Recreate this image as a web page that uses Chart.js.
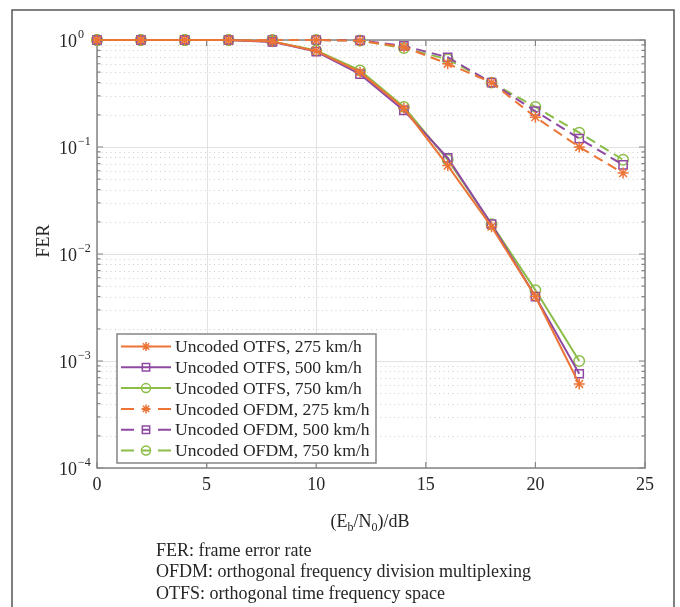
<!DOCTYPE html>
<html>
<head>
<meta charset="utf-8">
<style>
  html, body { margin: 0; padding: 0; background: #fff; }
  canvas { display: block; }
</style>
<script src="https://cdn.jsdelivr.net/npm/chart.js@4.4.1/dist/chart.umd.min.js"></script>
</head>
<body>
<canvas id="fer" width="680" height="607"></canvas>
<script>
// Eb/N0 sample points (dB)
const snrOtfs = [0, 2, 4, 6, 8, 10, 12, 14, 16, 18, 20, 22];
const snrOfdm = [0, 2, 4, 6, 8, 10, 12, 14, 16, 18, 20, 22, 24];

// Frame error rate per scheme and speed
const otfs275 = [1, 1, 1, 1, 0.97, 0.79, 0.50, 0.23, 0.067, 0.018, 0.0040, 0.00061];
const otfs500 = [1, 1, 1, 1, 0.96, 0.78, 0.48, 0.22, 0.079, 0.019, 0.0040, 0.00076];
const otfs750 = [1, 1, 1, 1, 0.97, 0.80, 0.52, 0.237, 0.076, 0.019, 0.0046, 0.0010];
const ofdm275 = [1, 1, 1, 1, 1, 1, 0.985, 0.86, 0.60, 0.40, 0.19, 0.10, 0.057];
const ofdm500 = [1, 1, 1, 1, 1, 1, 0.99, 0.88, 0.69, 0.40, 0.216, 0.12, 0.068];
const ofdm750 = [1, 1, 1, 1, 1, 1, 0.99, 0.84, 0.66, 0.40, 0.237, 0.136, 0.076];

const seriesLabels = [
  'Uncoded OTFS, 275 km/h',
  'Uncoded OTFS, 500 km/h',
  'Uncoded OTFS, 750 km/h',
  'Uncoded OFDM, 275 km/h',
  'Uncoded OFDM, 500 km/h',
  'Uncoded OFDM, 750 km/h'
];

// Axis ticks
const xTicks = [0, 5, 10, 15, 20, 25];
const yExponents = [0, -1, -2, -3, -4];

const footnotes = [
  'FER: frame error rate',
  'OFDM: orthogonal frequency division multiplexing',
  'OTFS: orthogonal time frequency space'
];

const ORANGE = '#ec7436';
const PURPLE = '#8e4aa3';
const GREEN = '#8bbd48';
const SERIF = '"Liberation Serif", "Times New Roman", serif';
const TEXT = '#262626';
const AXIS = '#858585';

const toPoints = (xs, ys) => xs.map((x, i) => ({ x: x, y: ys[i] }));

function series(label, xs, ys, color, style, radius, dashed) {
  return {
    label: label,
    data: toPoints(xs, ys),
    borderColor: color,
    backgroundColor: 'rgba(0,0,0,0)',
    borderWidth: 2,
    borderDash: dashed ? [10, 6] : [],
    pointStyle: style,
    pointRadius: radius,
    pointBorderColor: color,
    pointBackgroundColor: 'rgba(0,0,0,0)',
    pointBorderWidth: 1.5,
    tension: 0,
    clip: false
  };
}

const datasets = [
  series(seriesLabels[0], snrOtfs, otfs275, ORANGE, 'star', 5.5, false),
  series(seriesLabels[1], snrOtfs, otfs500, PURPLE, 'rect', 5.8, false),
  series(seriesLabels[2], snrOtfs, otfs750, GREEN, 'circle', 5.2, false),
  series(seriesLabels[3], snrOfdm, ofdm275, ORANGE, 'star', 5.5, true),
  series(seriesLabels[4], snrOfdm, ofdm500, PURPLE, 'rect', 5.8, true),
  series(seriesLabels[5], snrOfdm, ofdm750, GREEN, 'circle', 5.2, true)
];

function drawMarker(ctx, style, x, y, r, color) {
  ctx.save();
  ctx.strokeStyle = color;
  ctx.lineWidth = 1.5;
  ctx.setLineDash([]);
  ctx.beginPath();
  if (style === 'circle') {
    ctx.arc(x, y, r, 0, Math.PI * 2);
  } else if (style === 'rect') {
    const s = r * Math.SQRT1_2;
    ctx.rect(x - s, y - s, 2 * s, 2 * s);
  } else {
    for (let k = 0; k < 4; k++) {
      const a = k * Math.PI / 4;
      ctx.moveTo(x - r * Math.cos(a), y - r * Math.sin(a));
      ctx.lineTo(x + r * Math.cos(a), y + r * Math.sin(a));
    }
  }
  ctx.stroke();
  ctx.restore();
}

// White page with the figure frame
const framePlugin = {
  id: 'figureFrame',
  beforeDraw(chart) {
    const ctx = chart.ctx;
    ctx.save();
    ctx.fillStyle = '#fff';
    ctx.fillRect(0, 0, chart.width, chart.height);
    ctx.strokeStyle = '#555';
    ctx.lineWidth = 1.5;
    ctx.beginPath();
    ctx.moveTo(12, chart.height + 2);
    ctx.lineTo(12, 10);
    ctx.lineTo(674, 10);
    ctx.lineTo(674, chart.height + 2);
    ctx.stroke();
    ctx.restore();
  }
};

// Grid, axes box and inward tick marks
const axesPlugin = {
  id: 'axesBox',
  beforeDatasetsDraw(chart) {
    const ctx = chart.ctx;
    const xs = chart.scales.x, ys = chart.scales.y;
    const a = chart.chartArea;
    ctx.save();

    // minor dotted grid
    ctx.strokeStyle = '#cdcdcd';
    ctx.lineWidth = 1;
    ctx.setLineDash([1, 3.5]);
    for (const e of yExponents) {
      if (e === 0) continue;
      for (let m = 2; m <= 9; m++) {
        const py = Math.round(ys.getPixelForValue(m * Math.pow(10, e))) + 0.5;
        ctx.beginPath();
        ctx.moveTo(a.left, py);
        ctx.lineTo(a.right, py);
        ctx.stroke();
      }
    }

    // major solid grid
    ctx.setLineDash([]);
    ctx.strokeStyle = '#e2e2e2';
    for (const e of yExponents) {
      const py = Math.round(ys.getPixelForValue(Math.pow(10, e))) + 0.5;
      ctx.beginPath();
      ctx.moveTo(a.left, py);
      ctx.lineTo(a.right, py);
      ctx.stroke();
    }
    for (const t of xTicks) {
      const px = Math.round(xs.getPixelForValue(t)) + 0.5;
      ctx.beginPath();
      ctx.moveTo(px, a.top);
      ctx.lineTo(px, a.bottom);
      ctx.stroke();
    }

    // box
    ctx.strokeStyle = AXIS;
    ctx.lineWidth = 1.5;
    ctx.strokeRect(a.left, a.top, a.right - a.left, a.bottom - a.top);

    // tick marks pointing inwards
    ctx.lineWidth = 1.2;
    ctx.beginPath();
    for (const t of xTicks) {
      const px = xs.getPixelForValue(t);
      ctx.moveTo(px, a.bottom); ctx.lineTo(px, a.bottom - 6);
      ctx.moveTo(px, a.top); ctx.lineTo(px, a.top + 6);
    }
    for (const e of yExponents) {
      const py = ys.getPixelForValue(Math.pow(10, e));
      ctx.moveTo(a.left, py); ctx.lineTo(a.left + 6, py);
      ctx.moveTo(a.right, py); ctx.lineTo(a.right - 6, py);
      if (e === 0) continue;
      for (let m = 2; m <= 9; m++) {
        const pm = ys.getPixelForValue(m * Math.pow(10, e));
        ctx.moveTo(a.left, pm); ctx.lineTo(a.left + 3.5, pm);
        ctx.moveTo(a.right, pm); ctx.lineTo(a.right - 3.5, pm);
      }
    }
    ctx.stroke();
    ctx.restore();
  }
};

// Tick labels, axis titles, legend and footnotes
const textPlugin = {
  id: 'figureText',
  afterDraw(chart) {
    const ctx = chart.ctx;
    const xs = chart.scales.x, ys = chart.scales.y;
    const a = chart.chartArea;
    ctx.save();
    ctx.fillStyle = TEXT;

    // x tick labels
    ctx.font = '18px ' + SERIF;
    ctx.textAlign = 'center';
    ctx.textBaseline = 'middle';
    for (const t of xTicks) {
      ctx.fillText(String(t), xs.getPixelForValue(t), a.bottom + 17);
    }

    // y tick labels as 10 with a superscript exponent
    for (const e of yExponents) {
      const py = ys.getPixelForValue(Math.pow(10, e));
      ctx.font = '18px ' + SERIF;
      ctx.textAlign = 'left';
      ctx.textBaseline = 'middle';
      ctx.fillText('10', 59, py + 2);
      const w = ctx.measureText('10').width;
      ctx.font = '12px ' + SERIF;
      ctx.fillText(e === 0 ? '0' : '\u2212' + String(-e), 59 + w + 1, py - 5);
    }

    // y axis title
    ctx.save();
    ctx.translate(44, 241);
    ctx.rotate(-Math.PI / 2);
    ctx.font = '18px ' + SERIF;
    ctx.textAlign = 'center';
    ctx.textBaseline = 'middle';
    ctx.fillText('FER', 0, 0);
    ctx.restore();

    // x axis title: (E_b/N_0)/dB
    const parts = [
      ['(E', false], ['b', true], ['/N', false], ['0', true], [')/dB', false]
    ];
    let total = 0;
    for (const [s, sub] of parts) {
      ctx.font = (sub ? '12px ' : '18px ') + SERIF;
      total += ctx.measureText(s).width;
    }
    let cx = 370 - total / 2;
    ctx.textAlign = 'left';
    ctx.textBaseline = 'middle';
    for (const [s, sub] of parts) {
      ctx.font = (sub ? '12px ' : '18px ') + SERIF;
      ctx.fillText(s, cx, sub ? 528 : 522);
      cx += ctx.measureText(s).width;
    }

    // footnotes
    ctx.font = '18px ' + SERIF;
    footnotes.forEach((line, i) => {
      ctx.fillText(line, 156, 551 + i * 21.7);
    });

    // legend
    const lx = 117, ly = 334, lw = 259, lh = 129;
    ctx.fillStyle = '#fff';
    ctx.fillRect(lx, ly, lw, lh);
    ctx.strokeStyle = AXIS;
    ctx.lineWidth = 1.5;
    ctx.strokeRect(lx, ly, lw, lh);
    chart.data.datasets.forEach((ds, i) => {
      const y = 346.5 + i * 20.8;
      ctx.strokeStyle = ds.borderColor;
      ctx.lineWidth = 2;
      ctx.setLineDash([]);
      ctx.beginPath();
      if (ds.borderDash && ds.borderDash.length) {
        ctx.moveTo(121, y); ctx.lineTo(134, y);
        ctx.moveTo(142, y); ctx.lineTo(150, y);
        ctx.moveTo(158, y); ctx.lineTo(171, y);
      } else {
        ctx.moveTo(121, y); ctx.lineTo(171, y);
      }
      ctx.stroke();
      drawMarker(ctx, ds.pointStyle, 146, y, ds.pointStyle === 'rect' ? 5.2 : 4.5, ds.borderColor);
      ctx.fillStyle = TEXT;
      ctx.font = '17.6px ' + SERIF;
      ctx.textAlign = 'left';
      ctx.textBaseline = 'middle';
      ctx.fillText(ds.label, 175, y + 1);
    });

    ctx.restore();
  }
};

new Chart(document.getElementById('fer'), {
  type: 'line',
  data: { datasets: datasets },
  options: {
    responsive: false,
    animation: false,
    events: [],
    layout: { padding: { left: 97, right: 35, top: 40, bottom: 139 } },
    plugins: { legend: { display: false }, tooltip: { enabled: false } },
    scales: {
      x: { type: 'linear', min: 0, max: 25, display: false },
      y: { type: 'logarithmic', min: 1e-4, max: 1, display: false }
    }
  },
  plugins: [framePlugin, axesPlugin, textPlugin]
});
</script>
</body>
</html>
